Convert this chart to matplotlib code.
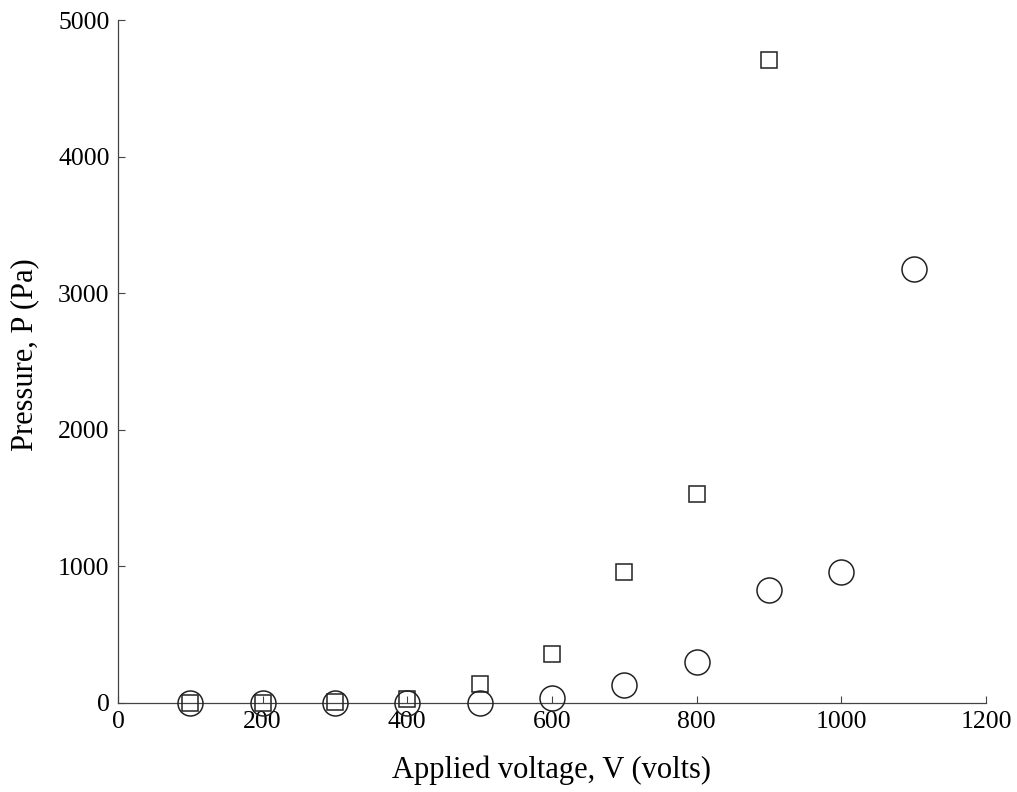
import matplotlib
matplotlib.use("Agg")
import matplotlib.pyplot as plt

# Applied voltage (V) and measured pressure (Pa) for two configurations
voltage_sq = [100, 200, 300, 400, 500, 600, 700, 800, 900]
pressure_sq = [0, 0, 10, 30, 140, 360, 960, 1530, 4710]

voltage_circ = [100, 200, 300, 400, 500, 600, 700, 800, 900, 1000, 1100]
pressure_circ = [0, 0, 0, 0, 0, 40, 130, 300, 830, 960, 3180]

x_ticks = [0, 200, 400, 600, 800, 1000, 1200]
y_ticks = [0, 1000, 2000, 3000, 4000, 5000]

plt.rcParams["font.family"] = ["Liberation Serif", "DejaVu Serif"]

fig = plt.figure(figsize=(10.17, 7.92), dpi=100)
ax = fig.add_axes([0.116, 0.1124, 0.8535, 0.8623])

ax.plot(voltage_sq, pressure_sq, linestyle="none", marker="s", markersize=12,
        markerfacecolor="none", markeredgecolor="#222222", markeredgewidth=1.1,
        clip_on=False, zorder=3)
ax.plot(voltage_circ, pressure_circ, linestyle="none", marker="o", markersize=18,
        markerfacecolor="none", markeredgecolor="#222222", markeredgewidth=1.1,
        clip_on=False, zorder=3)

ax.set_xlim(0, 1200)
ax.set_ylim(0, 5000)
ax.set_xticks(x_ticks)
ax.set_yticks(y_ticks)
ax.tick_params(direction="in", length=5, width=0.8, color="#444444",
               labelsize=18.5)
ax.tick_params(axis="x", pad=6)
ax.tick_params(axis="y", pad=6)

for side in ("top", "right"):
    ax.spines[side].set_visible(False)
for side in ("left", "bottom"):
    ax.spines[side].set_color("#444444")
    ax.spines[side].set_linewidth(0.9)

fig.text(0.116 + 0.8535 / 2, 22 / 792, "Applied voltage, V (volts)",
         fontsize=22, ha="center", va="center")
fig.text(25 / 1017, 1 - 355 / 792, "Pressure, P (Pa)", fontsize=22,
         ha="center", va="center", rotation=90)

fig.savefig("out.png", dpi=100)
